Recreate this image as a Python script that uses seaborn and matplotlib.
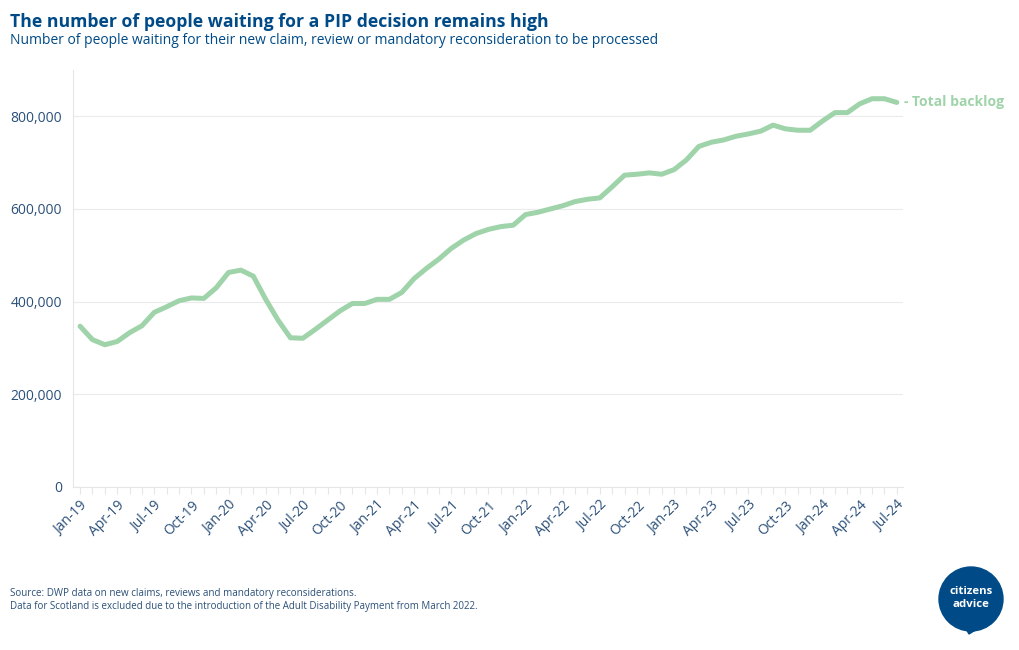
import numpy as np
import pandas as pd
import matplotlib.pyplot as plt
import seaborn as sns
from matplotlib.patches import Circle, Polygon

# Monthly backlog, Jan-19 to Jul-24
months = pd.date_range('2019-01-01', '2024-07-01', freq='MS')
backlog = [
    347000, 318000, 307000, 314000, 333000, 348000, 377000, 389000, 402000, 408000, 407000, 430000,
    463000, 468000, 455000, 405000, 360000, 322000, 321000, 340000, 360000, 380000, 396000, 396000,
    405000, 405000, 420000, 450000, 472000, 492000, 515000, 533000, 547000, 556000, 562000, 565000,
    588000, 593000, 600000, 607000, 616000, 621000, 624000, 648000, 673000, 675000, 678000, 675000,
    685000, 706000, 735000, 744000, 749000, 757000, 762000, 768000, 781000, 773000, 770000, 770000,
    790000, 808000, 808000, 827000, 838000, 838000, 830000,
]
month_labels = [m.strftime('%b-%y') for m in months]
y_ticks = [0, 200000, 400000, 600000, 800000]

df = pd.DataFrame({'month': np.arange(len(months)), 'backlog': backlog})

line_col = '#9fd3a9'
navy = '#004b87'
tick_col = '#2b5079'

sns.set_theme(style='white')
plt.rcParams['font.family'] = ['Open Sans', 'DejaVu Sans']

fig = plt.figure(figsize=(10.2, 6.5), dpi=100)
ax = fig.add_axes([0.0716, 0.2508, 0.8137, 0.6415])

sns.lineplot(data=df, x='month', y='backlog', ax=ax, color=line_col,
             linewidth=3.6, solid_joinstyle='round', solid_capstyle='round')

ax.set_xlim(-0.57, 66.5)
ax.set_ylim(0, 900000)
ax.set_yticks(y_ticks)
ax.set_yticklabels([f'{v:,}' for v in y_ticks], fontsize=10, color=tick_col)
ax.yaxis.grid(True, color='#ebebeb', linewidth=0.8)
ax.set_axisbelow(True)

ax.set_xticks(df['month'][::3])
ax.set_xticklabels(month_labels[::3], rotation=45, ha='right', rotation_mode='anchor',
                   fontsize=10, color=tick_col)
ax.set_xticks(df['month'], minor=True)
ax.tick_params(axis='x', which='both', bottom=True, length=5, color='#e6e6e6', width=0.8, pad=3)
ax.tick_params(axis='y', length=0, pad=8)
ax.set_xlabel('')
ax.set_ylabel('')

for s in ['top', 'right']:
    ax.spines[s].set_visible(False)
for s in ['left', 'bottom']:
    ax.spines[s].set_color('#e6e6e6')
    ax.spines[s].set_linewidth(0.8)

ax.annotate('- Total backlog', xy=(df['month'].iloc[-1], backlog[-1]), xytext=(5, 0),
            textcoords='offset points', va='center', ha='left', fontsize=10,
            fontweight='bold', color=line_col, annotation_clip=False)

fig.text(0.0098, 0.958, 'The number of people waiting for a PIP decision remains high',
         fontsize=12.7, fontweight='bold', color=navy, va='baseline')
fig.text(0.0098, 0.933, 'Number of people waiting for their new claim, review or mandatory reconsideration to be processed',
         fontsize=10, color=navy, va='baseline')

fig.text(0.0098, 0.083, 'Source: DWP data on new claims, reviews and mandatory reconsiderations.',
         fontsize=7.1, color=tick_col, va='baseline')
fig.text(0.0098, 0.063, 'Data for Scotland is excluded due to the introduction of the Adult Disability Payment from March 2022.',
         fontsize=7.0, color=tick_col, va='baseline')

# citizens advice logo
r = 32
logo = fig.add_axes([(971 - 40) / 1020, (650 - 599 - 40) / 650, 80 / 1020, 80 / 650])
logo.set_xlim(-40, 40)
logo.set_ylim(-40, 40)
logo.set_aspect('equal')
logo.axis('off')
logo.add_patch(Circle((0, 0), r, color=navy))
logo.add_patch(Polygon([(-6, -28), (6, -30), (-2, -35)], closed=True, color=navy))
logo.text(0, 7, 'citizens', ha='center', va='center', fontsize=8.2, fontweight='bold', color='white')
logo.text(0, -5.5, 'advice', ha='center', va='center', fontsize=8.2, fontweight='bold', color='white')

fig.savefig('out.png', dpi=100, facecolor='white')
